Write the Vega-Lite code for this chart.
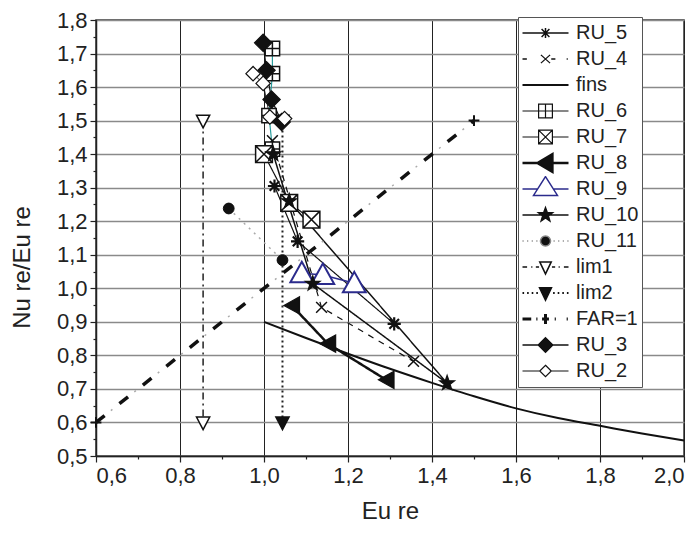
{
  "$schema": "https://vega.github.io/schema/vega-lite/v6.json",
  "width": 588,
  "height": 436,
  "autosize": {"type": "none"},
  "padding": {"left": 96, "top": 20, "right": 16, "bottom": 78},
  "background": "white",
  "config": {
    "font": "Liberation Sans",
    "view": {"stroke": "#333", "strokeWidth": 1.5},
    "axis": {
      "labelFont": "Liberation Sans",
      "titleFont": "Liberation Sans",
      "labelFontSize": 22,
      "titleFontSize": 24,
      "titleFontWeight": "normal",
      "labelColor": "#222",
      "titleColor": "#222",
      "domainColor": "#222",
      "domainWidth": 1.5,
      "tickColor": "#222",
      "tickWidth": 1.2,
      "labelPadding": 3
    },
    "legend": {
      "orient": "none",
      "legendX": 422,
      "legendY": -3,
      "symbolSize": 2116,
      "symbolOpacity": 1,
      "clipHeight": 26,
      "labelFont": "Liberation Sans",
      "labelFontSize": 20,
      "labelColor": "#222",
      "labelOffset": 6,
      "rowPadding": 0,
      "padding": 3,
      "strokeColor": "#555",
      "fillColor": "white"
    }
  },
  "data": {
    "values": [
      {"s": "RU_5", "x": 1.025, "y": 1.305, "o": 1},
      {"s": "RU_5", "x": 1.08, "y": 1.14, "o": 2},
      {"s": "RU_5", "x": 1.31, "y": 0.894, "o": 3},
      {"s": "RU_4", "x": 1.02, "y": 1.44, "o": 1},
      {"s": "RU_4", "x": 1.137, "y": 0.943, "o": 2},
      {"s": "RU_4", "x": 1.356, "y": 0.782, "o": 3},
      {"s": "fins", "x": 1.0, "y": 0.9, "o": 1},
      {"s": "fins", "x": 1.1, "y": 0.852, "o": 2},
      {"s": "fins", "x": 1.2, "y": 0.805, "o": 3},
      {"s": "fins", "x": 1.3, "y": 0.76, "o": 4},
      {"s": "fins", "x": 1.4, "y": 0.718, "o": 5},
      {"s": "fins", "x": 1.5, "y": 0.678, "o": 6},
      {"s": "fins", "x": 1.6, "y": 0.642, "o": 7},
      {"s": "fins", "x": 1.7, "y": 0.613, "o": 8},
      {"s": "fins", "x": 1.8, "y": 0.59, "o": 9},
      {"s": "fins", "x": 1.9, "y": 0.567, "o": 10},
      {"s": "fins", "x": 2.0, "y": 0.546, "o": 11},
      {"s": "RU_6", "x": 1.02, "y": 1.715, "o": 1},
      {"s": "RU_6", "x": 1.02, "y": 1.64, "o": 2},
      {"s": "RU_6", "x": 1.012, "y": 1.515, "o": 3},
      {"s": "RU_6", "x": 1.02, "y": 1.415, "o": 4},
      {"s": "RU_7", "x": 1.0, "y": 1.4, "o": 1},
      {"s": "RU_7", "x": 1.06, "y": 1.255, "o": 2},
      {"s": "RU_7", "x": 1.113, "y": 1.205, "o": 3},
      {"s": "RU_8", "x": 1.066, "y": 0.949, "o": 1},
      {"s": "RU_8", "x": 1.152, "y": 0.835, "o": 2},
      {"s": "RU_8", "x": 1.291, "y": 0.727, "o": 3},
      {"s": "RU_9", "x": 1.09, "y": 1.045, "o": 1},
      {"s": "RU_9", "x": 1.14, "y": 1.04, "o": 2},
      {"s": "RU_9", "x": 1.215, "y": 1.015, "o": 3},
      {"s": "RU_10", "x": 1.06, "y": 1.26, "o": 1},
      {"s": "RU_10", "x": 1.436, "y": 0.717, "o": 2},
      {"s": "RU_10", "x": 1.116, "y": 1.014, "o": 3},
      {"s": "RU_10", "x": 1.022, "y": 1.4, "o": 4},
      {"s": "RU_11", "x": 0.916, "y": 1.238, "o": 1},
      {"s": "RU_11", "x": 1.044, "y": 1.084, "o": 2},
      {"s": "lim1", "x": 0.855, "y": 1.5, "o": 1},
      {"s": "lim1", "x": 0.855, "y": 0.6, "o": 2},
      {"s": "lim2", "x": 1.044, "y": 1.5, "o": 1},
      {"s": "lim2", "x": 1.044, "y": 0.6, "o": 2},
      {"s": "FAR=1", "x": 0.6, "y": 0.6, "o": 1},
      {"s": "FAR=1", "x": 1.5, "y": 1.5, "o": 2},
      {"s": "RU_3", "x": 0.998, "y": 1.732, "o": 1},
      {"s": "RU_3", "x": 1.006, "y": 1.65, "o": 2},
      {"s": "RU_3", "x": 1.018, "y": 1.563, "o": 3},
      {"s": "RU_3", "x": 1.042, "y": 1.496, "o": 4},
      {"s": "RU_2", "x": 0.974, "y": 1.64, "o": 1},
      {"s": "RU_2", "x": 0.998, "y": 1.611, "o": 2},
      {"s": "RU_2", "x": 1.014, "y": 1.511, "o": 3},
      {"s": "RU_2", "x": 1.049, "y": 1.506, "o": 4}
    ]
  },
  "encoding": {
    "x": {
      "field": "x", "type": "quantitative",
      "scale": {"domain": [0.6, 2.0], "nice": false, "zero": false},
      "axis": {
        "values": [0.6, 0.7, 0.8, 0.9, 1.0, 1.1, 1.2, 1.3, 1.4, 1.5, 1.6, 1.7, 1.8, 1.9, 2.0],
        "labelExpr": "round(datum.value * 10) % 2 === 0 ? replace(format(datum.value, '.1f'), '.', ',') : ''",
        "tickSize": {"condition": {"test": "round(datum.value * 10) % 2 === 0", "value": 6}, "value": 3},
        "grid": true, "gridColor": "#222", "gridWidth": 1,
        "gridOpacity": {"condition": {"test": "round(datum.value * 10) % 2 === 0", "value": 1}, "value": 0},
        "title": "Eu re",
        "titleY": 55, "titleBaseline": "middle"
      }
    },
    "y": {
      "field": "y", "type": "quantitative",
      "scale": {"domain": [0.5, 1.8], "nice": false, "zero": false},
      "axis": {
        "values": [0.5, 0.55, 0.6, 0.65, 0.7, 0.75, 0.8, 0.85, 0.9, 0.95, 1.0, 1.05, 1.1, 1.15, 1.2, 1.25, 1.3, 1.35, 1.4, 1.45, 1.5, 1.55, 1.6, 1.65, 1.7, 1.75, 1.8],
        "labelExpr": "abs(datum.value * 10 - round(datum.value * 10)) < 0.01 ? replace(format(datum.value, '.1f'), '.', ',') : ''",
        "tickSize": {"condition": {"test": "abs(datum.value * 10 - round(datum.value * 10)) < 0.01", "value": 6}, "value": 3},
        "grid": true, "gridColor": "#8a8a8a", "gridWidth": 1.5,
        "gridOpacity": {"condition": {"test": "abs(datum.value * 10 - round(datum.value * 10)) < 0.01", "value": 1}, "value": 0},
        "title": "Nu re/Eu re",
        "titleX": -74, "titleY": 247, "titleAlign": "center", "titleBaseline": "middle", "titleAngle": -90
      }
    }
  },
  "layer": [
    {
      "transform": [{"filter": "datum.s !== 'fins' && datum.s !== 'FAR=1'"}],
      "mark": {"type": "line"},
      "encoding": {
        "order": {"field": "o", "type": "quantitative"},
        "stroke": {
          "field": "s", "type": "nominal", "legend": null,
          "scale": {
            "domain": ["RU_5", "RU_4", "RU_6", "RU_7", "RU_8", "RU_9", "RU_10", "RU_11", "lim1", "lim2", "RU_3", "RU_2"],
            "range": ["#111111", "#111111", "#2a9d9d", "#111111", "#111111", "#2b2b8c", "#111111", "#aaaaaa", "#222222", "#222222", "#111111", "#111111"]
          }
        },
        "strokeDash": {
          "field": "s", "type": "nominal", "legend": null,
          "scale": {
            "domain": ["RU_5", "RU_4", "RU_6", "RU_7", "RU_8", "RU_9", "RU_10", "RU_11", "lim1", "lim2", "RU_3", "RU_2"],
            "range": [[1, 0], [6, 6], [1, 0], [1, 0], [1, 0], [1, 0], [1, 0], [2, 5], [7, 4, 2, 4], [2, 3], [1, 0], [1, 0]]
          }
        },
        "strokeWidth": {
          "field": "s", "type": "nominal", "legend": null,
          "scale": {
            "type": "ordinal",
            "domain": ["RU_5", "RU_4", "RU_6", "RU_7", "RU_8", "RU_9", "RU_10", "RU_11", "lim1", "lim2", "RU_3", "RU_2"],
            "range": [1.2, 1.2, 1.2, 1.2, 2.5, 1.5, 1.5, 1.5, 1.5, 2, 1.2, 1]
          }
        }
      }
    },
    {
      "transform": [{"filter": "datum.s === 'fins'"}],
      "mark": {"type": "line", "interpolate": "monotone", "color": "#111111", "strokeWidth": 2},
      "encoding": {"order": {"field": "o", "type": "quantitative"}}
    },
    {
      "transform": [{"filter": "datum.s === 'FAR=1'"}],
      "mark": {"type": "line", "color": "#111111", "strokeWidth": 3.5, "strokeDash": [11, 19]},
      "encoding": {"order": {"field": "o", "type": "quantitative"}}
    },
    {
      "transform": [{"filter": "datum.s === 'FAR=1'"}],
      "mark": {"type": "line", "color": "#aaaaaa", "strokeWidth": 1.5, "strokeDash": [2, 28], "strokeDashOffset": -19},
      "encoding": {"order": {"field": "o", "type": "quantitative"}}
    },
    {
      "transform": [{"filter": "datum.s !== 'fins'"}],
      "mark": {"type": "point", "size": 576, "opacity": 1},
      "encoding": {
        "shape": {
          "field": "s", "type": "nominal", "legend": null,
          "scale": {
            "domain": ["RU_5", "RU_4", "RU_6", "RU_7", "RU_8", "RU_9", "RU_10", "RU_11", "lim1", "lim2", "FAR=1", "RU_3", "RU_2"],
            "range": [
              "M-0.55,0H0.55M0,-0.55V0.55M-0.4,-0.4L0.4,0.4M-0.4,0.4L0.4,-0.4",
              "M-0.45,-0.45L0.45,0.45M-0.45,0.45L0.45,-0.45",
              "M-0.6,-0.6H0.6V0.6H-0.6ZM0,-0.6V0.6M-0.6,0H0.6",
              "M-0.7,-0.7H0.7V0.7H-0.7ZM-0.7,-0.7L0.7,0.7M-0.7,0.7L0.7,-0.7",
              "M-0.65,0L0.65,-0.72V0.72Z",
              "M0,-0.95L0.95,0.75H-0.95Z",
              "M0,-0.65L0.153,-0.21L0.618,-0.201L0.247,0.08L0.382,0.526L0,0.26L-0.382,0.526L-0.247,0.08L-0.618,-0.201L-0.153,-0.21Z",
              "M0.45,0A0.45,0.45 0 1,1 -0.45,0A0.45,0.45 0 1,1 0.45,0Z",
              "M-0.55,-0.45H0.55L0,0.6Z",
              "M-0.55,-0.45H0.55L0,0.6Z",
              "M0,-0.45V0.45M-0.45,0H0.45",
              "M0,-0.72L0.72,0L0,0.72L-0.72,0Z",
              "M0,-0.6L0.6,0L0,0.6L-0.6,0Z"
            ]
          }
        },
        "fill": {
          "field": "s", "type": "nominal", "legend": null,
          "scale": {
            "domain": ["RU_5", "RU_4", "RU_6", "RU_7", "RU_8", "RU_9", "RU_10", "RU_11", "lim1", "lim2", "FAR=1", "RU_3", "RU_2"],
            "range": ["#111111", "#111111", "#ffffff", "#ffffff", "#111111", "#ffffff", "#111111", "#111111", "#ffffff", "#111111", "#111111", "#111111", "#ffffff"]
          }
        },
        "stroke": {
          "field": "s", "type": "nominal", "legend": null,
          "scale": {
            "domain": ["RU_5", "RU_4", "RU_6", "RU_7", "RU_8", "RU_9", "RU_10", "RU_11", "lim1", "lim2", "FAR=1", "RU_3", "RU_2"],
            "range": ["#111111", "#111111", "#111111", "#111111", "#111111", "#2b2b8c", "#111111", "#111111", "#111111", "#111111", "#111111", "#111111", "#111111"]
          }
        },
        "strokeWidth": {
          "field": "s", "type": "nominal", "legend": null,
          "scale": {
            "type": "ordinal",
            "domain": ["RU_5", "RU_4", "RU_6", "RU_7", "RU_8", "RU_9", "RU_10", "RU_11", "lim1", "lim2", "FAR=1", "RU_3", "RU_2"],
            "range": [2.2, 1.5, 1.5, 1.5, 1.2, 2, 1.2, 1, 1.5, 1.5, 2, 1.2, 1.2]
          }
        }
      }
    },
    {
      "mark": {"type": "point", "opacity": 0},
      "encoding": {
        "shape": {
          "field": "s", "type": "nominal", "title": null,
          "legend": {"title": null},
          "scale": {
            "domain": ["RU_5", "RU_4", "fins", "RU_6", "RU_7", "RU_8", "RU_9", "RU_10", "RU_11", "lim1", "lim2", "FAR=1", "RU_3", "RU_2"],
            "range": [
              "M-1,0H1M-0.22,0H0.22M0,-0.22V0.22M-0.17,-0.17L0.17,0.17M-0.17,0.17L0.17,-0.17",
              "M-1,0H-0.81M-0.2,-0.18L0.2,0.18M-0.2,0.18L0.2,-0.18M0.25,0H0.43M0.92,0H0.97",
              "M-1,0H1",
              "M-1,0H1M-0.3,-0.3H0.3V0.3H-0.3ZM0,-0.3V0.3",
              "M-1,0H-0.3M0.3,0H1M-0.3,-0.3H0.3V0.3H-0.3ZM-0.3,-0.3L0.3,0.3M-0.3,0.3L0.3,-0.3",
              "M-1,0H-0.35M-0.35,0L0.3,-0.38V0.38ZM0.3,0H1",
              "M-1,0H-0.34M0.34,0H1M0,-0.54L0.52,0.28H-0.52Z",
              "M-1,0H1M0,-0.32L0.076,-0.105L0.304,-0.099L0.124,0.04L0.188,0.259L0,0.13L-0.188,0.259L-0.124,0.04L-0.304,-0.099L-0.076,-0.105Z",
              "M-1,0H-0.95M-0.8,0H-0.75M-0.6,0H-0.55M-0.4,0H-0.35M0.35,0H0.4M0.55,0H0.6M0.75,0H0.8M0.95,0H1M0.22,0A0.22,0.22 0 1,1 -0.22,0A0.22,0.22 0 1,1 0.22,0Z",
              "M-1,0H-0.8M-0.62,0H-0.57M-0.42,0H-0.28M0.28,0H0.42M0.57,0H0.62M0.8,0H1M-0.25,-0.22H0.25L0,0.3Z",
              "M-1,0H-0.93M-0.8,0H-0.73M-0.6,0H-0.53M-0.4,0H-0.33M0.33,0H0.4M0.53,0H0.6M0.73,0H0.8M0.93,0H1M-0.25,-0.22H0.25L0,0.3Z",
              "M-1,0H-0.62M-0.4,0H-0.35M-0.15,0H0.15M0,-0.22V0.22M0.4,0H0.45M0.92,0H0.97",
              "M-1,0H-0.32M0.32,0H1M0,-0.32L0.32,0L0,0.32L-0.32,0Z",
              "M-1,0H-0.25M0.25,0H1M0,-0.25L0.25,0L0,0.25L-0.25,0Z"
            ]
          }
        },
        "fill": {
          "field": "s", "type": "nominal", "title": null,
          "legend": {"title": null},
          "scale": {
            "domain": ["RU_5", "RU_4", "fins", "RU_6", "RU_7", "RU_8", "RU_9", "RU_10", "RU_11", "lim1", "lim2", "FAR=1", "RU_3", "RU_2"],
            "range": ["#111111", "#111111", "#111111", "#ffffff", "#ffffff", "#111111", "#ffffff", "#111111", "#111111", "#ffffff", "#111111", "#111111", "#111111", "#ffffff"]
          }
        },
        "stroke": {
          "field": "s", "type": "nominal", "title": null,
          "legend": {"title": null},
          "scale": {
            "domain": ["RU_5", "RU_4", "fins", "RU_6", "RU_7", "RU_8", "RU_9", "RU_10", "RU_11", "lim1", "lim2", "FAR=1", "RU_3", "RU_2"],
            "range": ["#111111", "#111111", "#111111", "#111111", "#111111", "#111111", "#2b2b8c", "#111111", "#888888", "#111111", "#111111", "#111111", "#111111", "#111111"]
          }
        },
        "strokeWidth": {
          "field": "s", "type": "nominal", "title": null,
          "legend": {"title": null},
          "scale": {
            "type": "ordinal",
            "domain": ["RU_5", "RU_4", "fins", "RU_6", "RU_7", "RU_8", "RU_9", "RU_10", "RU_11", "lim1", "lim2", "FAR=1", "RU_3", "RU_2"],
            "range": [1.5, 1.3, 2, 1.2, 1.2, 2.5, 1.5, 1.5, 1.5, 1.5, 1.8, 3, 1.3, 1.2]
          }
        }
      }
    }
  ],
  "resolve": {
    "scale": {"shape": "independent", "fill": "independent", "stroke": "independent", "strokeWidth": "independent", "strokeDash": "independent"}
  }
}
